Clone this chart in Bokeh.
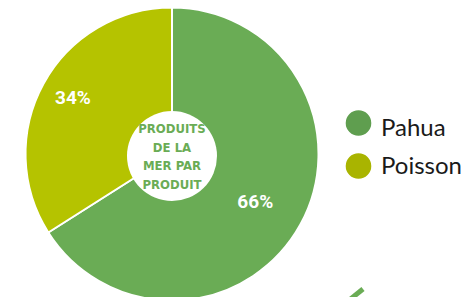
import math
from bokeh.plotting import figure
from bokeh.models import Range1d, ColumnDataSource
from bokeh.core.properties import value
from bokeh.embed import file_html
from bokeh.resources import INLINE

# ---- data ----
categories = ["Pahua", "Poisson"]
shares = [66, 34]
pct_labels = ["66%", "34%"]
center_lines = ["PRODUITS", "DE LA", "MER PAR", "PRODUIT"]

slice_colors = ["#6aac55", "#b5c300"]
legend_colors = ["#5f9e4f", "#a9b400"]

W, H = 472, 297
p = figure(width=W, height=H, output_backend="svg", toolbar_location=None,
           x_range=Range1d(0, W), y_range=Range1d(0, H), min_border=0)
p.axis.visible = False
p.grid.visible = False
p.outline_line_color = None
p.background_fill_color = "white"
p.border_fill_color = "white"

cx, cy, R = 171.5, 143.5, 146.5
total = sum(shares)
# slices clockwise from 12 o'clock
starts, ends, mids = [], [], []
a = math.pi / 2
for v in shares:
    sweep = 2 * math.pi * v / total
    ends.append(a)
    starts.append(a - sweep)
    mids.append(a - sweep / 2)
    a -= sweep

src = ColumnDataSource(dict(x=[cx] * len(shares), y=[cy] * len(shares),
                            start=starts, end=ends, color=slice_colors))
p.wedge(x="x", y="y", radius=R, start_angle="start", end_angle="end",
        fill_color="color", line_color="white", line_width=2, source=src)

# inner white disc
icx, icy = 171.5, 141.5
p.circle(x=[icx], y=[icy], radius=45, fill_color="white", line_color=None)

# percentage labels
label_r = [95, 113]
label_dy = [-2, 2]
lx = [cx + r * math.cos(m) for r, m in zip(label_r, mids)]
ly = [cy + r * math.sin(m) + d for r, m, d in zip(label_r, mids, label_dy)]
p.text(x=lx, y=ly, text=pct_labels, text_color="white",
       text_font=value("Roboto"), text_font_style="bold",
       text_font_size="19px", text_align="center", text_baseline="middle")

# center text
n = len(center_lines)
spacing = 18.5
top = icy + 27.5
ys = [top - i * spacing for i in range(n)]
p.text(x=[icx] * n, y=ys, text=center_lines, text_color="#6aac55",
       text_font=value("DejaVu Sans Condensed"), text_font_style="bold",
       text_font_size="13px", text_align="center", text_baseline="middle")

# legend
dot_y = [174.5, 131.5]
text_y = [171, 133.5]
p.circle(x=[358] * 2, y=dot_y, radius=12.8, fill_color=legend_colors, line_color=None)
p.text(x=[380.5] * 2, y=text_y, text=categories, text_color="#1a1a1a",
       text_font=value("Lato"), text_font_size="24px",
       text_align="left", text_baseline="middle")

# decorative stroke bottom-right
p.segment(x0=[347], y0=[-4], x1=[362.5], y1=[8.5], line_color="#6aac55", line_width=5)

open("out.html", "w").write(file_html(p, INLINE))
